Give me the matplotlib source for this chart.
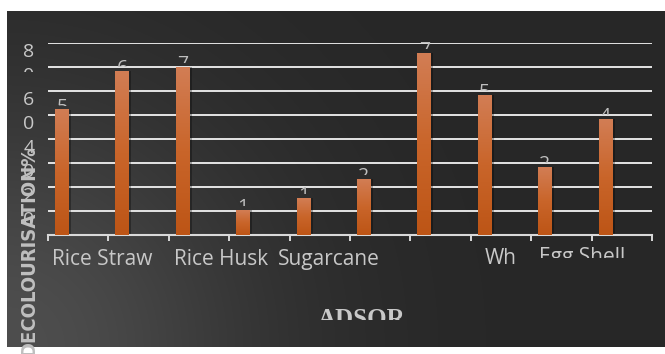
import numpy as np
import matplotlib
matplotlib.use("Agg")
import matplotlib.pyplot as plt
from matplotlib.colors import LinearSegmentedColormap
from matplotlib.patches import Rectangle
from matplotlib.transforms import blended_transform_factory, ScaledTranslation

# % decolourisation
values = [52.1, 68.3, 70.0, 10.4, 15.4, 23.3, 75.7, 58.3, 28.3, 48.3]
# data labels above the bars (only the first digit is left visible)
bar_labels = ["5", "6", "7", "1", "1", "2", "7", "5", "2", "4"]
# category labels under the axis, as far as they survive
cat_labels = ["Rice Straw", "Rice Husk", "Sugarcane", "Wh", "Egg Shell"]
yticks = [80, 60, 40, 20]
ylabel = "DECOLOURISATION%"
xlabel = "ADSOR"

# layout only (category-axis positions / pixel baselines of the labels)
cat_x = [0.40, 2.37, 4.15, 7.0, 8.34]
cat_base = [265, 265, 265, 264, 263]

W, H = 665, 354
fig = plt.figure(figsize=(W / 100, H / 100), dpi=100, facecolor="white")


def fx(px):
    return px / W


def fy(py):
    return 1 - py / H


# dark slide background, lighter towards the bottom-left corner
bg = fig.add_axes([fx(7), fy(347), fx(658), 336 / H])
yy, xx = np.mgrid[0:336, 0:658]
d = np.hypot(xx, 336 - yy)
shade = (0x27 + (0x4e - 0x27) * np.exp(-(d / 250) ** 2)) / 255
bg.imshow(np.dstack([shade] * 3), aspect="auto", interpolation="bilinear")
bg.axis("off")

ax = fig.add_axes([fx(48), fy(235), fx(604), 192 / H])
ax.set_facecolor("none")
ax.set_xlim(-0.5, 9.5)
ax.set_ylim(0, 80)

# grid
ax.set_yticks(np.arange(0, 90, 10))
ax.yaxis.grid(True, color="#e4e4e4", lw=1.4, zorder=1)
ax.set_axisbelow(True)
ax.tick_params(axis="y", left=False, labelleft=False)
ax.set_xticks(np.arange(-0.5, 10, 1))
ax.tick_params(axis="x", length=4, width=1.4, color="#d9d9d9",
               labelbottom=False, direction="out")
for s in ["top", "right", "left"]:
    ax.spines[s].set_visible(False)
ax.spines["bottom"].set_color("#d9d9d9")
ax.spines["bottom"].set_linewidth(1.5)

# bars, with a soft shadow and a vertical gradient
x = np.arange(len(values)) - 0.27
ax.bar(x + 0.035, values, width=0.23, color="black", alpha=0.3, zorder=2)
bars = ax.bar(x, values, width=0.23, color="#c9652a", zorder=3)
cmap = LinearSegmentedColormap.from_list("bar", ["#bd5516", "#c9652a", "#d27d54"])
grad = np.linspace(0, 1, 100).reshape(-1, 1)
for r in bars:
    ax.imshow(grad, cmap=cmap, origin="lower", aspect="auto", zorder=3.1,
              extent=(r.get_x(), r.get_x() + r.get_width(), 0, r.get_height()))
ax.set_xlim(-0.5, 9.5)
ax.set_ylim(0, 80)

# data labels, partly hidden
for r, lab in zip(bars, bar_labels):
    cx = r.get_x() + r.get_width() / 2
    t = ax.annotate(lab, xy=(cx, r.get_height()), xytext=(0, -1.5),
                    textcoords="offset points", ha="center", va="baseline",
                    fontsize=14, color="#bfbfbf", family="Open Sans", zorder=2.5)
    clip_tr = ax.transData + ScaledTranslation(0, 4 / 100, fig.dpi_scale_trans)
    t.set_clip_path(Rectangle((cx - 0.5, r.get_height()), 1, 200, transform=clip_tr))

# y tick labels, wrapped one digit per line
for v in yticks:
    for k, ch in enumerate(str(v)):
        tr = blended_transform_factory(fig.transFigure, ax.transData) + \
            ScaledTranslation(0, -(14 + 24 * k) / 100, fig.dpi_scale_trans)
        t = fig.text(fx(29), v, ch, transform=tr, ha="center", va="baseline",
                     fontsize=14, color="#c8c8c8", family="Open Sans", zorder=5)
        if v == 80 and k == 1:
            t.set_clip_path(Rectangle((0, fy(72)), 1, 1, transform=fig.transFigure))

# category labels
tr = blended_transform_factory(ax.transData, fig.transFigure)
for lab, cx, base in zip(cat_labels, cat_x, cat_base):
    t = fig.text(cx, fy(base), lab, transform=tr, ha="center", va="baseline",
                 fontsize=15, color="#c8c8c8", family="Open Sans", zorder=5)
    if lab == "Egg Shell":
        t.set_clip_path(Rectangle((0, fy(258)), 1, 1, transform=fig.transFigure))

fig.text(fx(28.5), fy(251), ylabel, rotation=90, ha="center", va="center",
         family=["DejaVu Sans"], fontstretch="condensed", weight="bold",
         fontsize=14.5, color="#bfbfbf", zorder=6)

t = fig.text(fx(362), fy(326), xlabel, ha="center", va="baseline",
             family="Liberation Serif", weight="bold", fontsize=18,
             color="#c8c8c8", zorder=6)
t.set_clip_path(Rectangle((0, fy(320)), 1, 1, transform=fig.transFigure))

fig.savefig("out.png", dpi=100, facecolor="white")
